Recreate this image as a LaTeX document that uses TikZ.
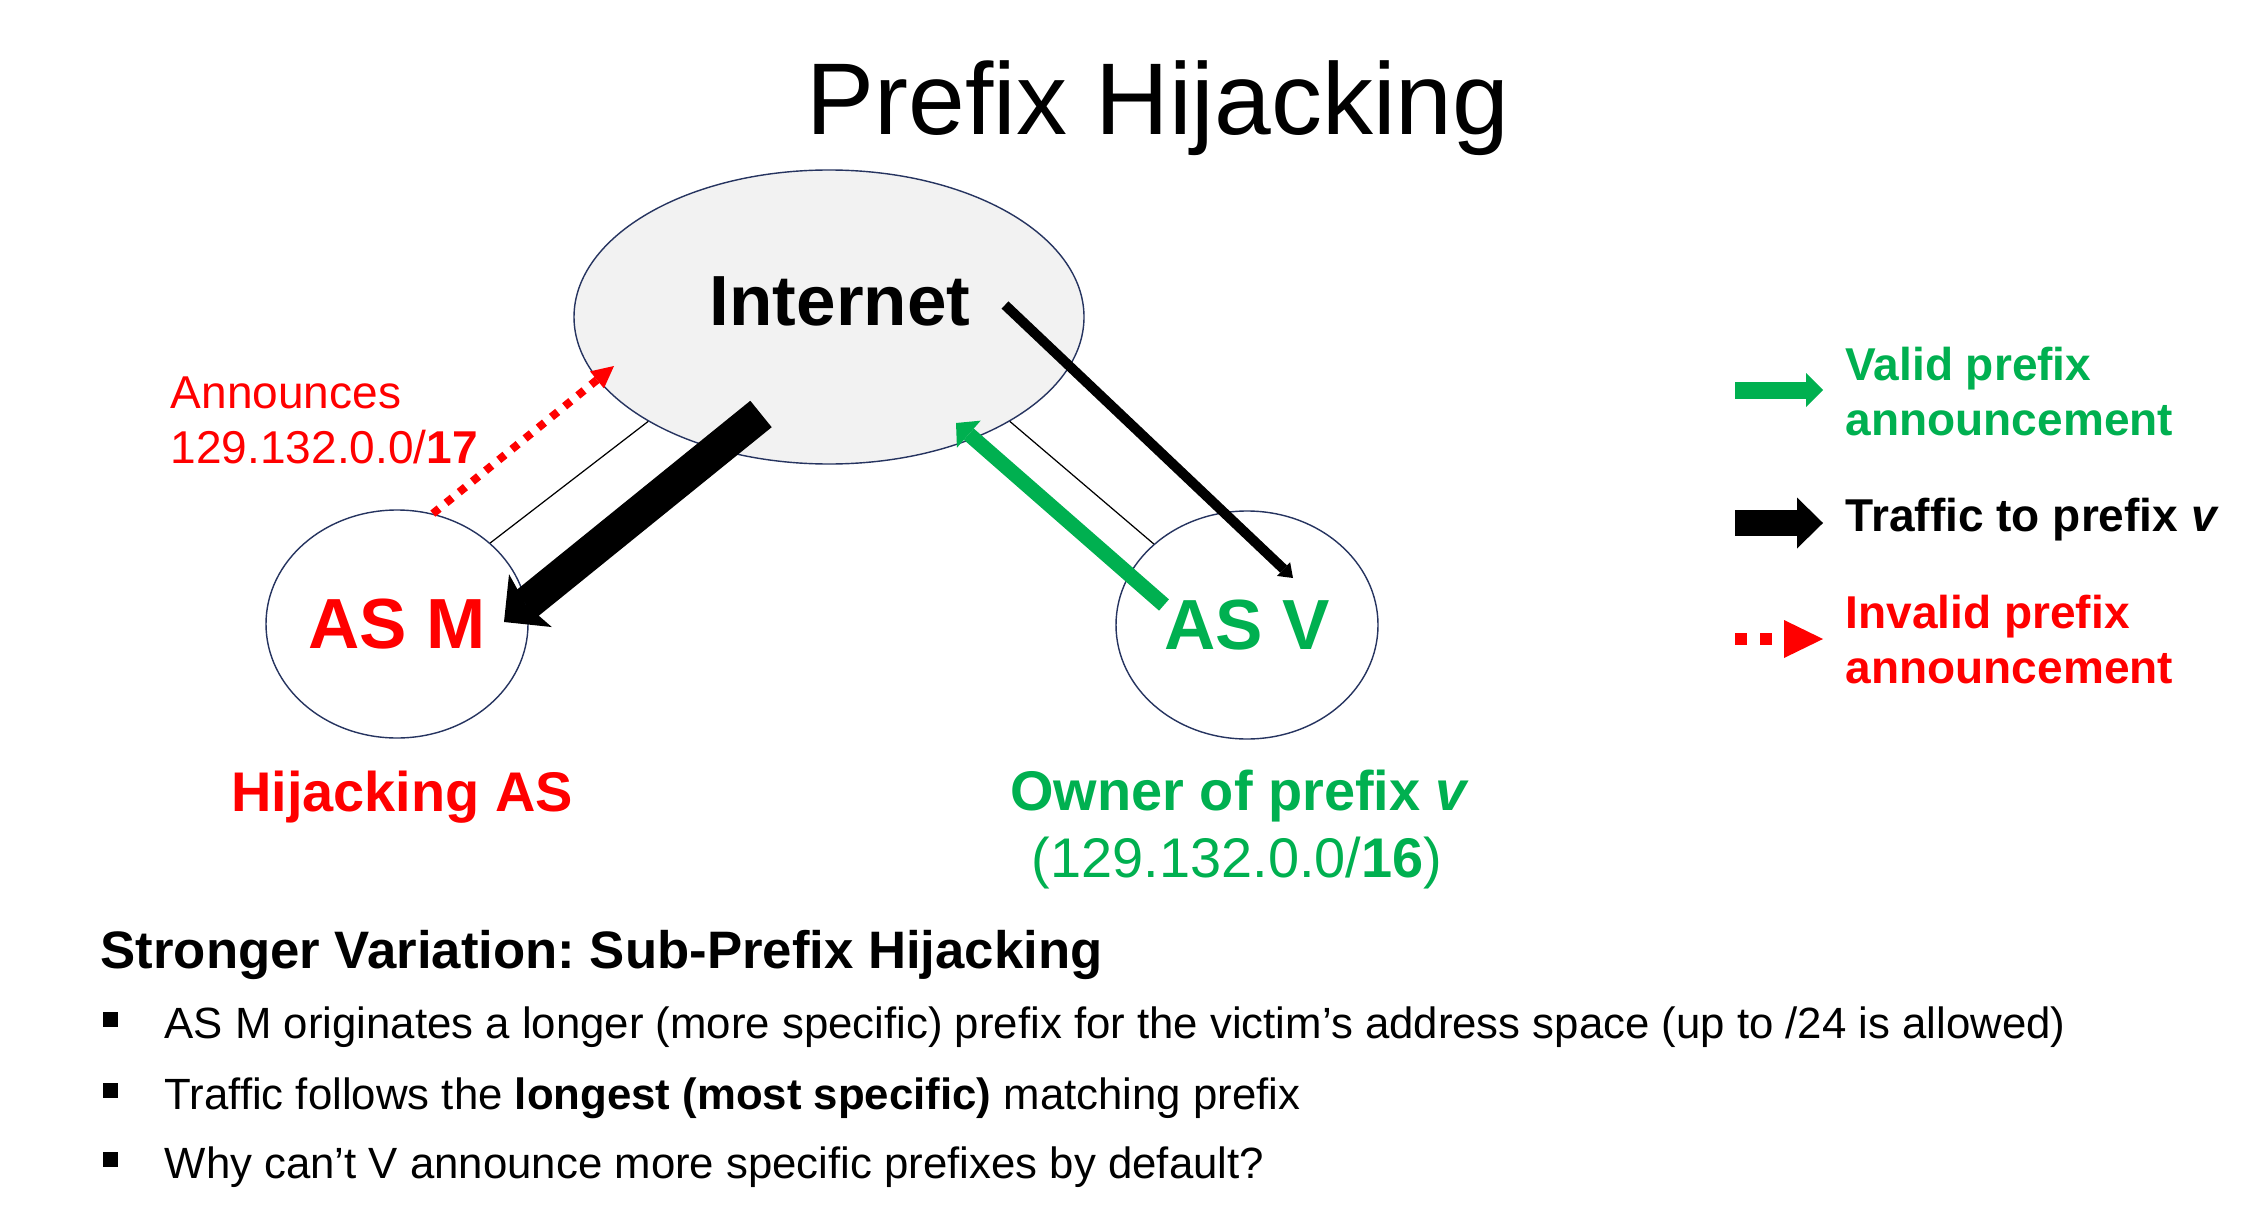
\documentclass[tikz,border=0pt]{standalone}
\usepackage{fontspec}
\setmainfont{Liberation Sans}
\usetikzlibrary{arrows.meta, shapes.geometric}

\definecolor{validgreen}{RGB}{0,176,80}
\definecolor{hijackred}{RGB}{255,0,0}
\definecolor{cloudgray}{RGB}{242,242,242}
\definecolor{edgeblue}{RGB}{38,52,96}

\frenchspacing

\begin{document}
\begin{tikzpicture}[
    asnode/.style={ellipse, draw=edgeblue, line width=0.4pt, inner sep=0pt, minimum width=2.62cm, minimum height=2.28cm, font=\fontsize{20.2}{24}\selectfont\bfseries},
    cloudnode/.style={ellipse, draw=edgeblue, line width=0.4pt, fill=cloudgray, minimum width=5.10cm, minimum height=2.94cm},
    caption_text/.style={font=\fontsize{15.9}{19}\selectfont\bfseries, anchor=base, inner sep=0pt},
    note_text/.style={font=\fontsize{13.1}{15.6}\selectfont, anchor=base west, align=left, inner sep=0pt},
    point_text/.style={font=\fontsize{12.45}{15}\selectfont, anchor=base west, inner sep=0pt},
    bullet_box/.style={rectangle, fill=black, minimum size=0.15cm, inner sep=0pt},
    link/.style={line width=0.35pt},
    traffic_arrow/.style={draw=black, line width=0.34cm, -{Stealth[length=0.34cm, width=0.68cm, inset=0.06cm, line width=0pt]}},
    thin_traffic_arrow/.style={draw=black, line width=0.10cm, -{Triangle[length=0.13cm, width=0.19cm, line width=0pt]}},
    valid_arrow/.style={draw=validgreen, line width=0.15cm, -{Triangle[length=0.17cm, width=0.36cm, line width=0pt]}},
    invalid_arrow/.style={draw=hijackred, line width=0.08cm, dash pattern=on 0.08cm off 0.09cm, -{Triangle[length=0.22cm, width=0.22cm, line width=0pt]}},
]

%Background
\fill[white] (0, 0) rectangle (22.58, -12.24);

% Title
\node[font=\fontsize{29}{34}\selectfont, anchor=base, inner sep=0pt] (title) at (11.58, -1.35) {Prefix Hijacking};

% Internet and the two ASes
\node[cloudnode] (internet) at (8.29, -3.17) {};
\node[font=\fontsize{20.2}{24}\selectfont\bfseries, anchor=base, inner sep=0pt] (internet_label) at (8.40, -3.26) {Internet};

\node[asnode, text=hijackred] (as_m) at (3.97, -6.24) {AS M};
\node[asnode, text=validgreen] (as_v) at (12.47, -6.25) {AS V};

% Labels below the ASes
\node[caption_text, text=hijackred] (hijack_label) at (4.02, -8.11) {Hijacking AS};
\node[caption_text, text=validgreen] (owner_label) at (12.40, -8.10) {Owner of prefix \textit{v}};
\node[caption_text, font=\fontsize{15.9}{19}\selectfont, text=validgreen] (owner_prefix) at (12.37, -8.77) {(129.132.0.0/\textbf{16})};

% Announcement of the hijacker (base = last line)
\node[note_text, text=hijackred] (announce) at (1.70, -4.63) {Announces\\129.132.0.0/\textbf{17}};

% Legend
\node[note_text, font=\fontsize{13.1}{15.6}\selectfont\bfseries, text=validgreen] (legend_valid) at (18.45, -4.35) {Valid prefix\\announcement};
\node[note_text, font=\fontsize{13.1}{15.6}\selectfont\bfseries] (legend_traffic) at (18.45, -5.31) {Traffic to prefix \textit{v}};
\node[note_text, font=\fontsize{13.1}{15.6}\selectfont\bfseries, text=hijackred] (legend_invalid) at (18.45, -6.83) {Invalid prefix\\announcement};

\coordinate (legend_valid_start) at (17.35, -3.90);
\coordinate (legend_valid_end) at (18.23, -3.90);
\coordinate (legend_traffic_start) at (17.35, -5.23);
\coordinate (legend_traffic_end) at (18.23, -5.23);
\coordinate (legend_invalid_start) at (17.35, -6.39);
\coordinate (legend_invalid_end) at (18.23, -6.39);

% Sub-prefix hijacking
\node[font=\fontsize{15.0}{18}\selectfont\bfseries, anchor=base west, inner sep=0pt] (variation) at (1.00, -9.68) {Stronger Variation: Sub-Prefix Hijacking};

\node[bullet_box] (bullet_1) at (1.105, -10.195) {};
\node[point_text] (point_1) at (1.64, -10.38) {AS M originates a longer (more specific) prefix for the victim’s address space (up to /24 is allowed)};
\node[bullet_box] (bullet_2) at (1.105, -10.905) {};
\node[point_text] (point_2) at (1.64, -11.09) {Traffic follows the \textbf{longest (most specific)} matching prefix};
\node[bullet_box] (bullet_3) at (1.105, -11.595) {};
\node[point_text] (point_3) at (1.64, -11.78) {Why can’t V announce more specific prefixes by default?};

% Arrow ends
\coordinate (traffic_m_start) at (7.61, -4.14);
\coordinate (traffic_m_end) at (5.04, -6.22);
\coordinate (traffic_v_start) at (10.05, -3.05);
\coordinate (traffic_v_end) at (12.93, -5.78);
\coordinate (valid_start) at (11.64, -6.05);
\coordinate (valid_end) at (9.56, -4.23);
\coordinate (invalid_end) at (6.14, -3.66);

% Links
\draw[link] (as_m.41) -- (internet.210);
\draw[link] (as_v.139) -- (internet.330);

% Arrows
\draw[invalid_arrow] (as_m.72) -- (invalid_end);
\draw[traffic_arrow] (traffic_m_start) -- (traffic_m_end);
\draw[thin_traffic_arrow] (traffic_v_start) -- (traffic_v_end);
\draw[valid_arrow] (valid_start) -- (valid_end);

% Legend arrows
\draw[valid_arrow, line width=0.17cm, -{Triangle[length=0.17cm, width=0.34cm, line width=0pt]}] (legend_valid_start) -- (legend_valid_end);
\draw[traffic_arrow, line width=0.26cm, -{Triangle[length=0.26cm, width=0.51cm, line width=0pt]}] (legend_traffic_start) -- (legend_traffic_end);
\draw[invalid_arrow, line width=0.12cm, dash pattern=on 0.12cm off 0.13cm, -{Triangle[length=0.39cm, width=0.38cm, line width=0pt]}] (legend_invalid_start) -- (legend_invalid_end);

\end{tikzpicture}
\end{document}
